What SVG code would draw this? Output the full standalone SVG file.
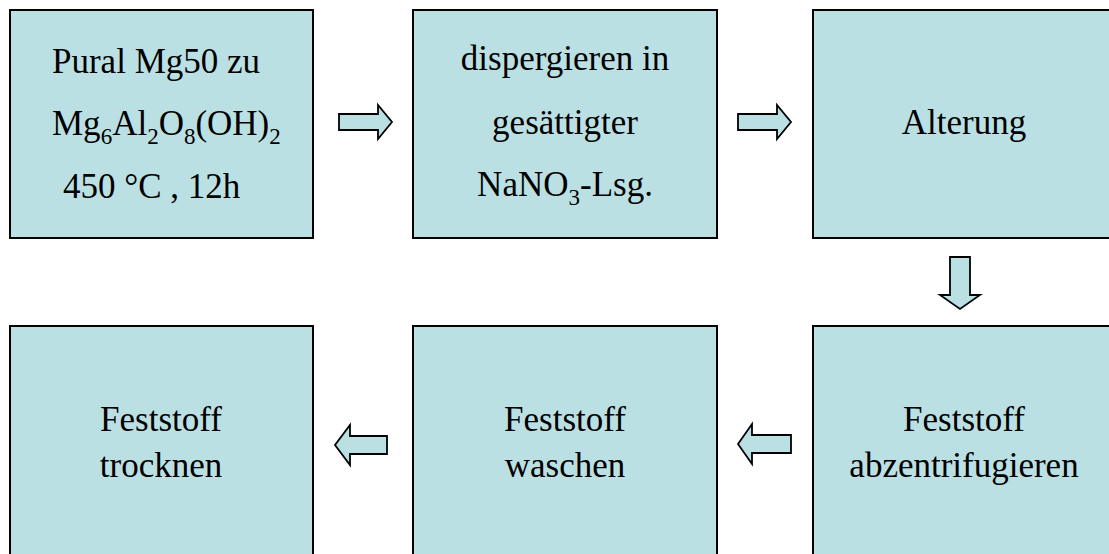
<svg xmlns="http://www.w3.org/2000/svg" width="1109" height="554" viewBox="0 0 1109 554">
<style>
.box{fill:#BBE0E3;stroke:#000;stroke-width:2}
.arr{fill:#BBE0E3;stroke:#000;stroke-width:1.8;stroke-linejoin:miter}
.t{font-family:"Liberation Serif","Times New Roman",serif;font-size:35px;fill:#000}
.c{text-anchor:middle}
.s{font-size:23px}
</style>
<rect width="1109" height="554" fill="#fff"/>
<g id="n1">
<rect class="box" x="10" y="10" width="303" height="228"/>
<text class="t" x="52" y="73">Pural Mg50 zu</text>
<text class="t" x="52" y="135">Mg<tspan class="s" dy="9">6</tspan><tspan dy="-9">Al</tspan><tspan class="s" dy="9">2</tspan><tspan dy="-9">O</tspan><tspan class="s" dy="9">8</tspan><tspan dy="-9">(OH)</tspan><tspan class="s" dy="9">2</tspan></text>
<text class="t" x="63" y="198">450 °C , 12h</text>
</g>
<g id="n2">
<rect class="box" x="413" y="10" width="304" height="228"/>
<text class="t c" x="565" y="70">dispergieren in</text>
<text class="t c" x="565" y="134">gesättigter</text>
<text class="t c" x="565" y="196">NaNO<tspan class="s" dy="9">3</tspan><tspan dy="-9">-Lsg.</tspan></text>
</g>
<g id="n3">
<rect class="box" x="813" y="10" width="303" height="228"/>
<text class="t c" x="964" y="134">Alterung</text>
</g>
<g id="n4">
<rect class="box" x="10" y="326" width="303" height="230"/>
<text class="t c" x="161" y="431">Feststoff</text>
<text class="t c" x="161" y="477">trocknen</text>
</g>
<g id="n5">
<rect class="box" x="413" y="326" width="304" height="230"/>
<text class="t c" x="565" y="431">Feststoff</text>
<text class="t c" x="565" y="477">waschen</text>
</g>
<g id="n6">
<rect class="box" x="813" y="326" width="303" height="230"/>
<text class="t c" x="964" y="431">Feststoff</text>
<text class="t c" x="964" y="477">abzentrifugieren</text>
</g>
<g id="connectors">
<path class="arr" d="M339,114 H378 V105 L392,122 L378,139 V130 H339 Z"/>
<path class="arr" d="M738,114 H777 V105 L791,122 L777,139 V130 H738 Z"/>
<path class="arr" d="M950,257 H970 V295 H980 L960,309 L940,295 H950 Z"/>
<path class="arr" d="M791,435 H752 V424 L738,444 L752,464 V453 H791 Z"/>
<path class="arr" d="M387,436 H350 V425 L335,445 L350,465 V454 H387 Z"/>
</g>
</svg>
